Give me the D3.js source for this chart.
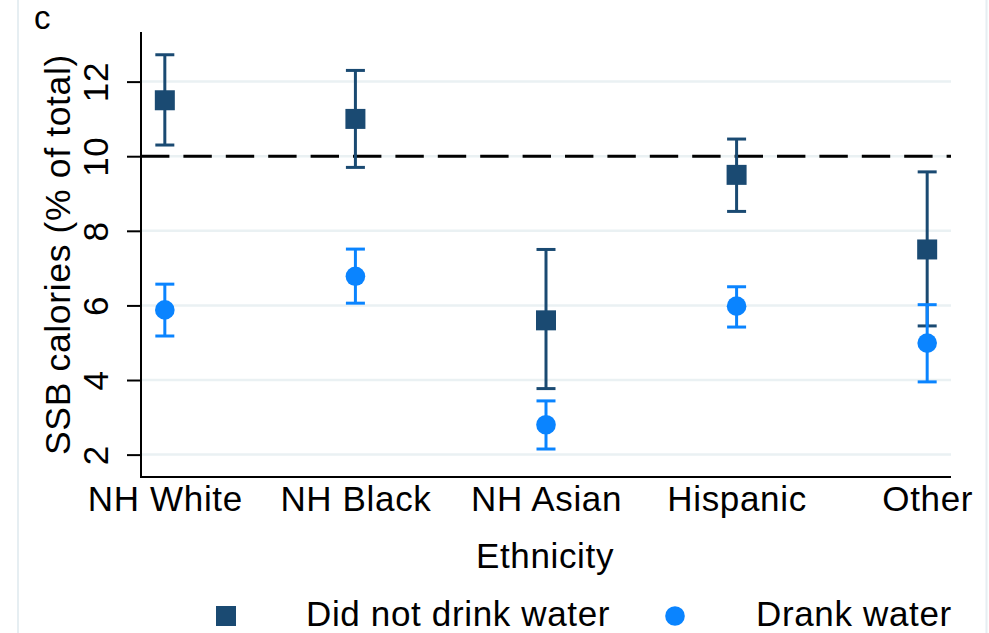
<!DOCTYPE html>
<html>
<head>
<meta charset="utf-8">
<script src="https://cdn.jsdelivr.net/npm/d3@7"></script>
<style>
  html, body { margin: 0; padding: 0; background: #fff; }
  svg { display: block; font-family: "Liberation Sans", Arial, Helvetica, sans-serif; }
  .lbl { letter-spacing: 0.65px; }
</style>
</head>
<body>
<svg id="chart" width="989" height="633"></svg>
<script>
// Ethnic groups along the x axis
const categories = ["NH White", "NH Black", "NH Asian", "Hispanic", "Other"];

// SSB calories (% of total), point estimate with 95% CI
const noWaterMean  = [11.5, 11.0, 5.6, 9.5, 7.5];
const noWaterLower = [10.3, 9.7, 3.77, 8.52, 5.45];
const noWaterUpper = [12.72, 12.3, 7.5, 10.46, 9.58];

const waterMean  = [5.88, 6.78, 2.8, 5.98, 4.99];
const waterLower = [5.18, 6.06, 2.15, 5.42, 3.95];
const waterUpper = [6.57, 7.51, 3.44, 6.5, 6.02];

const yTicks = [2, 4, 6, 8, 10, 12];
const referenceLine = 10;

const seriesNames = ["Did not drink water", "Drank water"];
const navy = "#1a4a72";
const blue = "#0a84ff";
const gridColor = "#eaf1f3";

const svg = d3.select("#chart");

// Plot region
const plotLeft = 141, plotRight = 951, plotTop = 32, plotBottom = 477;

const x = d3.scaleLinear().domain([0.875, 5.125]).range([plotLeft, plotRight]);
const y = d3.scaleLinear().domain([1.4, 13.33]).range([plotBottom, plotTop]);

// Outer graph-region edges
svg.append("line").attr("x1", 18).attr("x2", 18).attr("y1", 0).attr("y2", 633)
  .attr("stroke", "#e6eef2").attr("stroke-width", 2);
svg.append("line").attr("x1", 986.5).attr("x2", 986.5).attr("y1", 0).attr("y2", 633)
  .attr("stroke", "#e6eef2").attr("stroke-width", 2);

// Horizontal gridlines
svg.append("g").selectAll("line").data(yTicks).join("line")
  .attr("x1", plotLeft).attr("x2", plotRight)
  .attr("y1", d => y(d)).attr("y2", d => y(d))
  .attr("stroke", gridColor).attr("stroke-width", 2.5);

// Dashed reference line
svg.append("line")
  .attr("x1", plotLeft).attr("x2", plotRight)
  .attr("y1", y(referenceLine)).attr("y2", y(referenceLine))
  .attr("stroke", "#000").attr("stroke-width", 3)
  .attr("stroke-dasharray", "28.4 14");

// Y axis
const yAxis = d3.axisLeft(y).tickValues(yTicks).tickSize(14).tickPadding(19)
  .tickFormat(d3.format("d"));
const gy = svg.append("g").attr("transform", `translate(${plotLeft},0)`).call(yAxis);
gy.select(".domain").remove();
gy.selectAll(".tick line").attr("stroke", "#000").attr("stroke-width", 2);
gy.selectAll(".tick text")
  .attr("class", "lbl")
  .attr("font-size", 35).attr("fill", "#000")
  .attr("text-anchor", "middle")
  .attr("dy", null)
  .attr("x", null)
  .attr("transform", "translate(-33,0) rotate(-90)");
svg.append("line").attr("x1", plotLeft).attr("x2", plotLeft).attr("y1", plotTop).attr("y2", plotBottom + 1)
  .attr("stroke", "#000").attr("stroke-width", 2);

// X axis
const xAxis = d3.axisBottom(x).tickValues(d3.range(1, categories.length + 1))
  .tickSize(0).tickPadding(0).tickFormat(d => categories[d - 1]);
const gx = svg.append("g").attr("transform", `translate(0,${plotBottom})`).call(xAxis);
gx.select(".domain").remove();
gx.selectAll(".tick text")
  .attr("class", "lbl")
  .attr("font-size", 35).attr("fill", "#000")
  .attr("dy", null).attr("y", 33.5);
svg.append("line").attr("x1", plotLeft - 1).attr("x2", plotRight).attr("y1", plotBottom).attr("y2", plotBottom)
  .attr("stroke", "#000").attr("stroke-width", 2);

// Axis titles
svg.append("text").attr("class", "lbl")
  .attr("transform", `translate(70,${(plotTop + plotBottom) / 2}) rotate(-90)`)
  .attr("text-anchor", "middle").attr("font-size", 35.5).attr("fill", "#000")
  .text("SSB calories (% of total)");
svg.append("text").attr("class", "lbl")
  .attr("x", (plotLeft + plotRight) / 2 - 1).attr("y", 567.5)
  .attr("text-anchor", "middle").attr("font-size", 35).attr("fill", "#000")
  .text("Ethnicity");

// Panel letter
svg.append("text").attr("x", 34).attr("y", 29)
  .attr("font-size", 33).attr("fill", "#000").text("c");

// Error bars
function drawErrorBars(means, lower, upper, color) {
  const g = svg.append("g").attr("stroke", color).attr("stroke-width", 3).attr("fill", "none");
  means.forEach((m, i) => {
    const cx = x(i + 1);
    g.append("line").attr("x1", cx).attr("x2", cx).attr("y1", y(lower[i])).attr("y2", y(upper[i]));
    g.append("line").attr("x1", cx - 9.5).attr("x2", cx + 9.5).attr("y1", y(lower[i])).attr("y2", y(lower[i]));
    g.append("line").attr("x1", cx - 9.5).attr("x2", cx + 9.5).attr("y1", y(upper[i])).attr("y2", y(upper[i]));
  });
}
drawErrorBars(noWaterMean, noWaterLower, noWaterUpper, navy);
drawErrorBars(waterMean, waterLower, waterUpper, blue);

// Square markers (did not drink water)
svg.append("g").selectAll("rect").data(noWaterMean).join("rect")
  .attr("x", (d, i) => x(i + 1) - 10).attr("y", d => y(d) - 10)
  .attr("width", 20).attr("height", 20).attr("fill", navy);

// Circle markers (drank water)
svg.append("g").selectAll("circle").data(waterMean).join("circle")
  .attr("cx", (d, i) => x(i + 1)).attr("cy", d => y(d))
  .attr("r", 9.8).attr("fill", blue);

// Legend
const legend = svg.append("g");
legend.append("rect").attr("x", 216).attr("y", 606).attr("width", 20).attr("height", 20).attr("fill", navy);
legend.append("text").attr("class", "lbl").attr("x", 306).attr("y", 625.5).attr("font-size", 35).attr("fill", "#000")
  .text(seriesNames[0]);
legend.append("circle").attr("cx", 675).attr("cy", 616).attr("r", 9.8).attr("fill", blue);
legend.append("text").attr("class", "lbl").attr("x", 756).attr("y", 625.5).attr("font-size", 35).attr("fill", "#000")
  .text(seriesNames[1]);
</script>
</body>
</html>
